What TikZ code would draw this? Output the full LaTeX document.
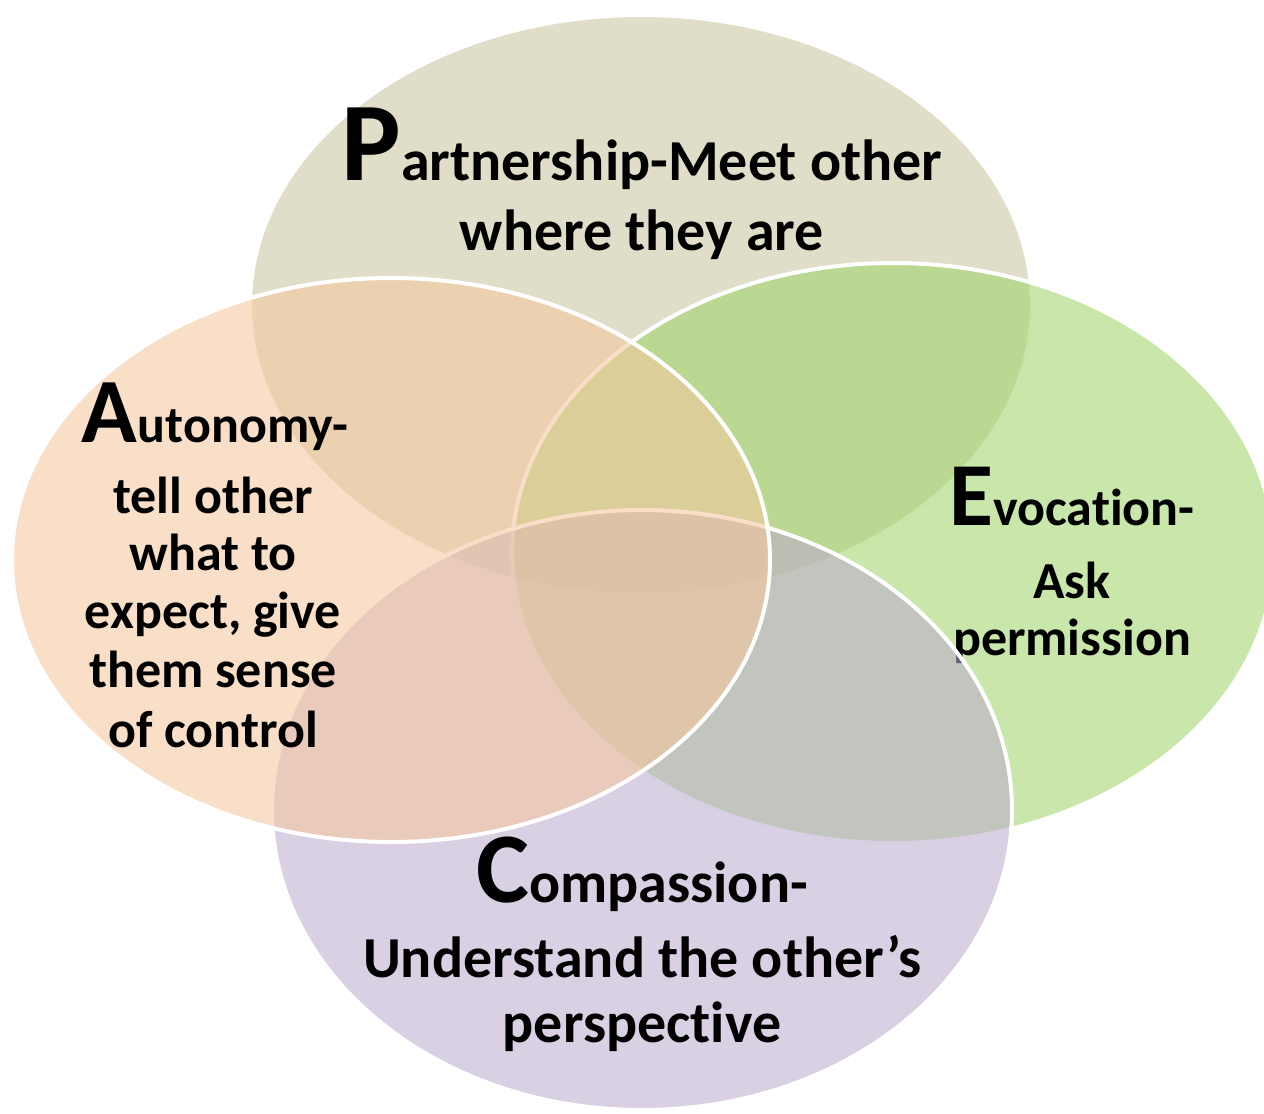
\documentclass[tikz,border=0pt]{standalone}
\usepackage{fontspec}
\setmainfont{Carlito}[Ligatures={NoCommon,NoContextual}]
\definecolor{partnercol}{RGB}{200,197,160}
\definecolor{evocol}{RGB}{160,212,105}
\definecolor{autocol}{RGB}{246,199,158}
\definecolor{compcol}{RGB}{188,172,206}
\newcommand{\initialcap}[2]{{\fontsize{#1}{#1}\selectfont #2}}
\begin{document}
\begin{tikzpicture}[x=1pt,y=-1pt,
  petal/.style={draw=white,line width=4pt,fill opacity=0.57,draw opacity=1},
  bodyline/.style={anchor=base,inner sep=0pt,font=\bfseries\fontsize{#1}{#1}\selectfont},
  bodyline/.default=58]
\useasboundingbox (0,0) rectangle (1264,1114);
\clip (0,0) rectangle (1264,1114);

% Partnership
\draw[petal,fill=partnercol] (641,305) ellipse [x radius=391,y radius=290];
\node[bodyline] (p1) at (642,180) {\initialcap{112}{P}artnership-Meet other};
\node[bodyline] (p2) at (642,250) {where they are};

% Evocation
\draw[petal,fill=evocol] (893,553) ellipse [x radius=381,y radius=290];
\node[bodyline=52] (e1) at (1072,525) {\initialcap{90}{E}vocation-};
\node[bodyline=52] (e2) at (1072,598) {Ask};
\node[bodyline=52] (e3) at (1072,655) {permission};

% Compassion
\draw[petal,fill=compcol] (642,810) ellipse [x radius=370,y radius=300];
\node[bodyline] (c1) at (642,902) {\initialcap{100}{C}ompassion-};
\node[bodyline] (c2) at (642,977) {Understand the other’s};
\node[bodyline] (c3) at (642,1042) {perspective};

% Autonomy
\draw[petal,fill=autocol] (391,560) ellipse [x radius=379,y radius=282];
\node[bodyline=52] (a1) at (215,442) {\initialcap{92}{A}utonomy-};
\node[bodyline=52] (a2) at (213,513) {tell other};
\node[bodyline=52] (a3) at (213,570) {what to};
\node[bodyline=52] (a4) at (213,628) {expect, give};
\node[bodyline=52] (a5) at (213,687) {them sense};
\node[bodyline=52] (a6) at (213,747) {of control};
\end{tikzpicture}
\end{document}
